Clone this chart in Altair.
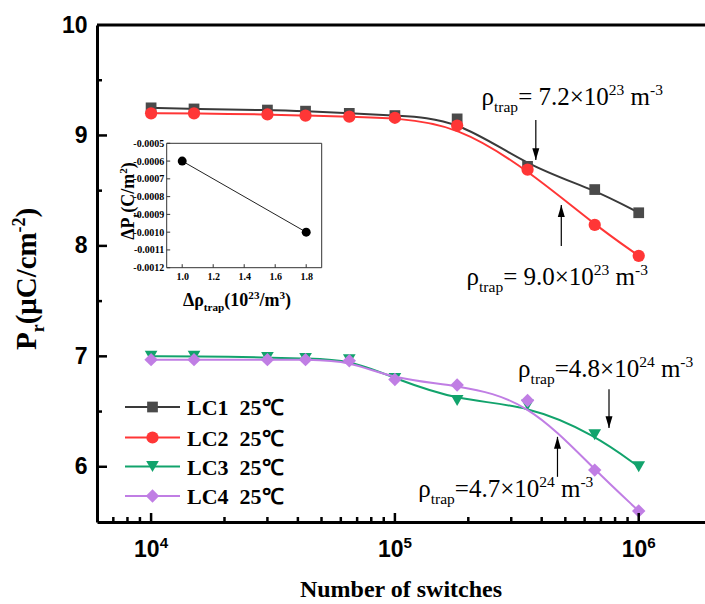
import altair as alt
import pandas as pd

# ---------------- data ----------------
switches = [1e4, 1.5e4, 3e4, 4.3e4, 6.5e4, 1e5, 1.8e5, 3.5e5, 6.6e5, 1e6]
series = ["LC1", "LC2", "LC3", "LC4"]
legend_labels = ["LC1\u00a0\u00a025℃", "LC2\u00a0\u00a025℃", "LC3\u00a0\u00a025℃", "LC4\u00a0\u00a025℃"]
pr_lc1 = [9.25, 9.24, 9.23, 9.22, 9.20, 9.18, 9.15, 8.72, 8.51, 8.30]
pr_lc2 = [9.20, 9.20, 9.19, 9.18, 9.17, 9.16, 9.09, 8.69, 8.19, 7.91]
pr_lc3 = [7.00, 7.00, 6.99, 6.98, 6.97, 6.80, 6.60, 6.56, 6.29, 6.00]
pr_lc4 = [6.97, 6.97, 6.97, 6.97, 6.96, 6.79, 6.74, 6.60, 5.97, 5.60]

inset_drho = [1.0, 1.8]
inset_dpr = [-0.0006, -0.0010]

y_tick_labels = [6, 7, 8, 9, 10]
y_ticks_major = [6, 7, 8, 9]
y_ticks_minor = [6.5, 7.5, 8.5, 9.5]
x_ticks_major = [1e4, 1e5, 1e6]
x_tick_exponents = ["4", "5", "6"]
x_ticks_minor = [7e3, 8e3, 9e3, 2e4, 3e4, 4e4, 5e4, 6e4, 7e4, 8e4, 9e4,
                 2e5, 3e5, 4e5, 5e5, 6e5, 7e5, 8e5, 9e5]
inset_x_ticks = [1.0, 1.2, 1.4, 1.6, 1.8]
inset_y_ticks = [-0.0005, -0.0006, -0.0007, -0.0008, -0.0009, -0.0010, -0.0011, -0.0012]

# annotations (anchor in data units: left start, baseline)
ann_x = [2.266e5, 1.967e5, 3.201e5, 1.246e5]
ann_y = [9.275, 7.645, 6.814, 5.727]
ann_main = ["= 7.2×10", "= 9.0×10", "=4.8×10", "=4.7×10"]
ann_exp = ["23", "23", "24", "24"]
arrow_x = [3.784e5, 4.813e5, 7.553e5, 4.643e5]
arrow_from = [9.139, 7.998, 6.703, 5.909]
arrow_tip = [8.777, 8.370, 6.350, 6.271]

# ---------------- style ----------------
W, H = 608, 497
SERIF = "Liberation Serif"
SANS = "Liberation Sans"
line_colors = ["#3a3a3a", "#ff3636", "#12a36c", "#c07ee4"]
marker_colors = ["#4a4a4a", "#ff3636", "#12a36c", "#c07ee4"]
shapes = ["square", "circle", "triangle-down", "diamond"]
msizes = [115, 150, 160, 180]

TIMES_R = {' ': 250, '.': 250, '=': 564, '×': 564, 'm': 778, '-': 333, 'ρ': 500,
           't': 278, 'r': 333, 'a': 444, 'p': 500}
TIMES_B = {' ': 250, '.': 250, '(': 333, ')': 333, '/': 278, '-': 333, 'P': 611,
           'C': 722, 'L': 667, 'N': 722, 'm': 833, 'c': 444, 'r': 444, 't': 333,
           'a': 500, 'p': 556, 'u': 556, 'b': 556, 'e': 444, 'o': 500, 'f': 333,
           's': 389, 'w': 722, 'i': 278, 'h': 556, 'μ': 556, 'Δ': 612, 'ρ': 549}
SANS_B = {}

one = pd.DataFrame({"k": [0]})


def tw(s, size, table, default=500):
    return sum(table.get(c, default) for c in s) * size / 1000.0


def rich(segs, size, x, y, font=SERIF, weight="bold", table=TIMES_B, default=500,
         align="left", angle=0, scale=0.62, sub=0.27, sup=0.38, color="black"):
    sizes = [size if k == "n" else size * scale for _, k in segs]
    widths = [tw(t, s, table, default) for (t, _), s in zip(segs, sizes)]
    pos = 0.0 if align == "left" else -sum(widths) / 2.0
    out = []
    for (t, k), s, w in zip(segs, sizes, widths):
        dy = 0.0 if k == "n" else (sub * size if k == "sub" else -sup * size)
        lead = len(t) - len(t.lstrip(" "))
        shift = tw(" " * lead, s, table, default)
        out.append(
            alt.Chart(one).mark_text(
                text=t.lstrip(" "), align="left", baseline="alphabetic", font=font,
                fontSize=s, fontWeight=weight, dx=pos + shift, dy=dy, angle=angle,
                color=color,
            ).encode(x=x, y=y)
        )
        pos += w
    return out


xs = alt.Scale(type="log", domain=[6000, 1.87e6], nice=False)
ys = alt.Scale(domain=[5.5, 10], nice=False, zero=False)

x_axis = alt.Axis(labels=False, ticks=False, tickSize=0, grid=False, title=None,
                  domainColor="black", domainWidth=3)
y_axis = alt.Axis(values=y_tick_labels, format="d", labelFont=SANS,
                  labelFontWeight="bold", labelFontSize=23, labelColor="black",
                  labelPadding=10, labelFlush=False, labelOverlap=False,
                  ticks=False, tickSize=0, grid=False, title=None,
                  domainColor="black", domainWidth=3)

rows = []
for name, vals in zip(series, [pr_lc1, pr_lc2, pr_lc3, pr_lc4]):
    for n, v in zip(switches, vals):
        rows.append({"series": name, "n": n, "pr": v})
df = pd.DataFrame(rows)

main = []
for i, name in enumerate(series):
    base = alt.Chart(df).transform_filter(alt.datum.series == name)
    enc = dict(x=alt.X("n:Q", scale=xs, axis=x_axis),
               y=alt.Y("pr:Q", scale=ys, axis=y_axis))
    main.append(base.mark_line(interpolate="basis", color=line_colors[i],
                               strokeWidth=2).encode(**enc))
    main.append(base.mark_point(filled=True, opacity=1, shape=shapes[i],
                                size=msizes[i], color=marker_colors[i]).encode(**enc))

# frame: top line + inward ticks
main.append(alt.Chart(one).mark_rule(color="black", strokeWidth=3).encode(
    x=alt.value(0), x2=alt.value(W), y=alt.value(0)))
main.append(alt.Chart(pd.DataFrame({"v": y_ticks_major})).mark_rule(
    color="black", strokeWidth=2.5).encode(
    x=alt.value(0), x2=alt.value(10), y=alt.Y("v:Q", scale=ys)))
main.append(alt.Chart(pd.DataFrame({"v": y_ticks_minor})).mark_rule(
    color="black", strokeWidth=2.5).encode(
    x=alt.value(0), x2=alt.value(5), y=alt.Y("v:Q", scale=ys)))
main.append(alt.Chart(pd.DataFrame({"v": x_ticks_major})).mark_rule(
    color="black", strokeWidth=2.5).encode(
    y=alt.value(H), y2=alt.value(H - 9), x=alt.X("v:Q", scale=xs)))
main.append(alt.Chart(pd.DataFrame({"v": x_ticks_minor})).mark_rule(
    color="black", strokeWidth=2.5).encode(
    y=alt.value(H), y2=alt.value(H - 5), x=alt.X("v:Q", scale=xs)))

# x tick labels 10^k
for xv, e in zip(x_ticks_major, x_tick_exponents):
    main += rich([("10", "n"), (e, "sup")], 23, alt.datum(xv), alt.value(532),
                 font=SANS, table=SANS_B, default=556, align="center",
                 scale=0.66, sup=0.4)

# annotations
for ax, ay, am, ae in zip(ann_x, ann_y, ann_main, ann_exp):
    main += rich([("ρ", "n"), ("trap", "sub"), (am, "n"), (ae, "sup"),
                  (" m", "n"), ("-3", "sup")], 25, alt.datum(ax), alt.datum(ay),
                 weight="normal", table=TIMES_R, scale=0.62, sub=0.28, sup=0.4)

# arrows
for axv, a0, a1 in zip(arrow_x, arrow_from, arrow_tip):
    main.append(alt.Chart(one).mark_rule(color="black", strokeWidth=1.2).encode(
        x=alt.datum(axv), y=alt.datum(a0), y2=alt.datum(a1)))
    head = "M0,0L-1,-3.4L1,-3.4Z" if a1 < a0 else "M0,0L-1,3.4L1,3.4Z"
    main.append(alt.Chart(one).mark_point(shape=head, filled=True, opacity=1,
                                          size=49, color="black").encode(
        x=alt.datum(axv), y=alt.datum(a1)))

# legend
leg_y = [382, 412.5, 441.5, 471]
for i, lab in enumerate(legend_labels):
    main.append(alt.Chart(one).mark_rule(color=line_colors[i], strokeWidth=2).encode(
        x=alt.value(28), x2=alt.value(83), y=alt.value(leg_y[i])))
    main.append(alt.Chart(one).mark_point(shape=shapes[i], filled=True, opacity=1,
                                          size=msizes[i], color=marker_colors[i]).encode(
        x=alt.value(55.5), y=alt.value(leg_y[i])))
    main.append(alt.Chart(one).mark_text(text=lab, align="left", baseline="middle",
                                         font=SERIF, fontWeight="bold", fontSize=22,
                                         color="black").encode(
        x=alt.value(90), y=alt.value(leg_y[i] + 1)))

# axis titles
main.append(alt.Chart(one).mark_text(text="Number of switches", align="center",
                                     baseline="alphabetic", font=SERIF,
                                     fontWeight="bold", fontSize=24,
                                     color="black").encode(
    x=alt.value(W / 2), y=alt.value(572)))
main += rich([("P", "n"), ("r", "sub"), ("(μC/cm", "n"), ("-2", "sup"), (")", "n")],
             29, alt.value(-61), alt.value(254), align="center", angle=270)
main += rich([("ΔP", "n"), ("r", "sub"), ("(C/m", "n"), ("2", "sup"), (")", "n")],
             18, alt.value(37), alt.value(176), align="center", angle=270)
main += rich([("Δρ", "n"), ("trap", "sub"), ("(10", "n"), ("23", "sup"), ("/m", "n"),
              ("3", "sup"), (")", "n")],
             18, alt.value(140), alt.value(281), align="center")

main_layer = alt.layer(*main)

# ---------------- inset ----------------
ixs = alt.Scale(domain=[0.9, 1.9], range=[69.7, 224.7], nice=False, zero=False)
iys = alt.Scale(domain=[-0.0012, -0.0005], range=[242.7, 118.3], nice=False, zero=False)
ix_axis = alt.Axis(orient="bottom", offset=-(H - 242.7), values=inset_x_ticks,
                   format=".1f", labelFont=SERIF, labelFontWeight="bold",
                   labelFontSize=10, labelColor="black", labelPadding=4,
                   ticks=False, tickSize=0, domain=False, grid=False, title=None,
                   labelFlush=False, labelOverlap=False)
iy_axis = alt.Axis(orient="left", offset=-69.7, values=inset_y_ticks,
                   labelExpr="replace(format(datum.value, '.4f'), '\u2212', '-')",
                   labelFont=SERIF, labelFontWeight="bold", labelFontSize=10,
                   labelColor="black", labelPadding=3, ticks=False, tickSize=0,
                   domain=False, grid=False, title=None, labelFlush=False,
                   labelOverlap=False)
idf = pd.DataFrame({"r": inset_drho, "p": inset_dpr})
ienc = dict(x=alt.X("r:Q", scale=ixs, axis=ix_axis), y=alt.Y("p:Q", scale=iys, axis=iy_axis))
inset = [
    alt.Chart(idf).mark_line(color="#222222", strokeWidth=1).encode(**ienc),
    alt.Chart(idf).mark_point(shape="circle", filled=True, opacity=1, size=80,
                              color="black").encode(**ienc),
    alt.Chart(one).mark_rect(fillOpacity=0, stroke="#333333", strokeWidth=1).encode(
        x=alt.datum(0.9), x2=alt.datum(1.9), y=alt.datum(-0.0005), y2=alt.datum(-0.0012)),
    alt.Chart(pd.DataFrame({"v": inset_y_ticks})).mark_rule(color="#333333",
                                                           strokeWidth=1).encode(
        x=alt.value(69.7), x2=alt.value(73.2), y=alt.Y("v:Q", scale=iys)),
    alt.Chart(pd.DataFrame({"v": inset_x_ticks})).mark_rule(color="#333333",
                                                           strokeWidth=1).encode(
        y=alt.value(242.7), y2=alt.value(239.2), x=alt.X("v:Q", scale=ixs)),
]
inset_layer = alt.layer(*inset)

chart = alt.layer(main_layer, inset_layer).resolve_scale(
    x="independent", y="independent"
).properties(
    width=W, height=H,
    padding={"left": 97, "top": 25, "right": 0, "bottom": 82},
    autosize=alt.AutoSizeParams(type="none"),
    background="white",
).configure_view(stroke=None)

chart.save("out.html", embed_options={"renderer": "svg", "actions": False})
